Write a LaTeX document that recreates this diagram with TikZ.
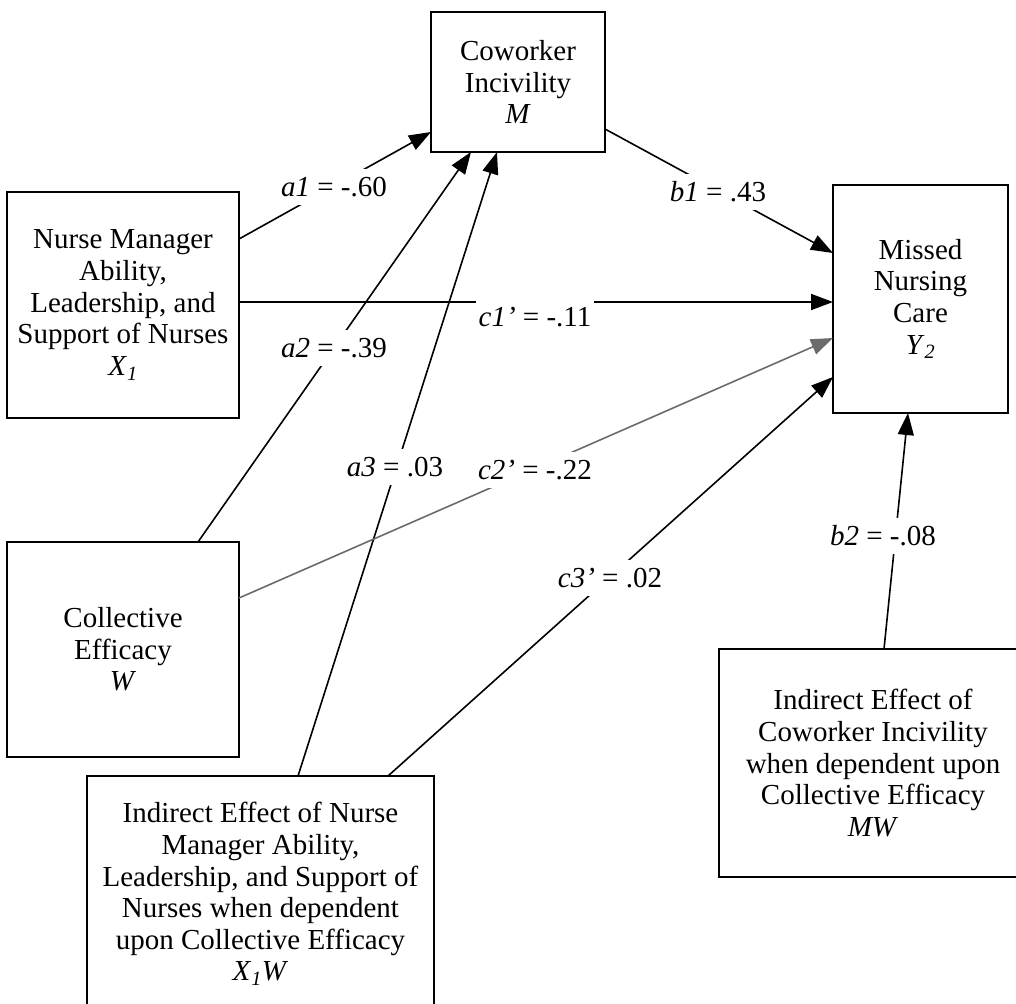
\documentclass[tikz,border=0pt]{standalone}
\usepackage{fontspec}
\setmainfont{Liberation Serif}
\usetikzlibrary{arrows.meta}
\begin{document}
\begin{tikzpicture}[x=1pt,y=-1pt,
  box/.style={draw, line width=1.8pt, inner sep=0pt, outer sep=0pt, align=center,
    font=\fontsize{29}{31.6}\selectfont},
  conn/.style={line width=1.6pt, -{Triangle[length=22pt,width=16pt]}},
  coef/.style={fill=white, inner xsep=3pt, inner ysep=8pt,
    font=\fontsize{29}{31.6}\selectfont},
]
\useasboundingbox (0,0) rectangle (1016,1003);
\clip (0,0) rectangle (1016,1003);

% variables
\node[box, minimum width=174pt, minimum height=140pt] (M) at (518,82)
  {Coworker\\Incivility\\\textit{M}};
\node[box, minimum width=232pt, minimum height=226pt] (X1) at (123,305)
  {Nurse Manager\\Ability,\\Leadership, and\\Support of Nurses\\\textit{X}\textsubscript{\textit{1}}};
\node[box, minimum width=175pt, minimum height=228pt] (Y2) at (920.5,299)
  {Missed\\Nursing\\Care\\\textit{Y}\textsubscript{\textit{2}}};
\node[box, minimum width=232pt, minimum height=215pt] (W) at (123,649.5)
  {Collective\\Efficacy\\\textit{W}};
\node[box, minimum width=347pt, minimum height=236pt] (X1W) at (260.5,894)
  {Indirect Effect of Nurse\\Manager Ability,\\Leadership, and Support of\\Nurses when dependent\\upon Collective Efficacy\\\textit{X}\textsubscript{\textit{1}}\textit{W}};
\node[box, minimum width=308pt, minimum height=228pt] (MW) at (873,763)
  {Indirect Effect of\\Coworker Incivility\\when dependent upon\\Collective Efficacy\\\textit{MW}};

% paths
\draw[conn] ([yshift=-47pt]X1.north east) -- ([yshift=-120pt]M.north west);
\draw[conn] ([yshift=-110pt]X1.north east) -- ([yshift=-117pt]Y2.north west);
\draw[conn] ([xshift=191pt]W.north west) -- ([xshift=40pt]M.south west);
\draw[conn] ([xshift=211pt]X1W.north west) -- ([xshift=66pt]M.south west);
\draw[conn] ([yshift=-117pt]M.north east) -- ([yshift=-68pt]Y2.north west);
\draw[conn, draw=black!58, fill=black] ([yshift=-56pt]W.north east) -- ([yshift=-153pt]Y2.north west);
\draw[conn] ([xshift=301pt]X1W.north west) -- ([yshift=-192pt]Y2.north west);
\draw[conn] ([xshift=165pt]MW.north west) -- ([xshift=75pt]Y2.south west);

% coefficients
\node[coef] (la1) at (334,187) {\textit{a1} = -.60};
\node[coef] (lb1) at (718,192) {\textit{b1} = .43};
\node[coef] (lc1) at (535,317) {\textit{c1’} = -.11};
\node[coef] (la2) at (334,348) {\textit{a2} = -.39};
\node[coef] (la3) at (395,467) {\textit{a3} = .03};
\node[coef] (lc2) at (535,470) {\textit{c2’} = -.22};
\node[coef] (lc3) at (610,578) {\textit{c3’} = .02};
\node[coef] (lb2) at (883,536) {\textit{b2} = -.08};
\end{tikzpicture}
\end{document}
